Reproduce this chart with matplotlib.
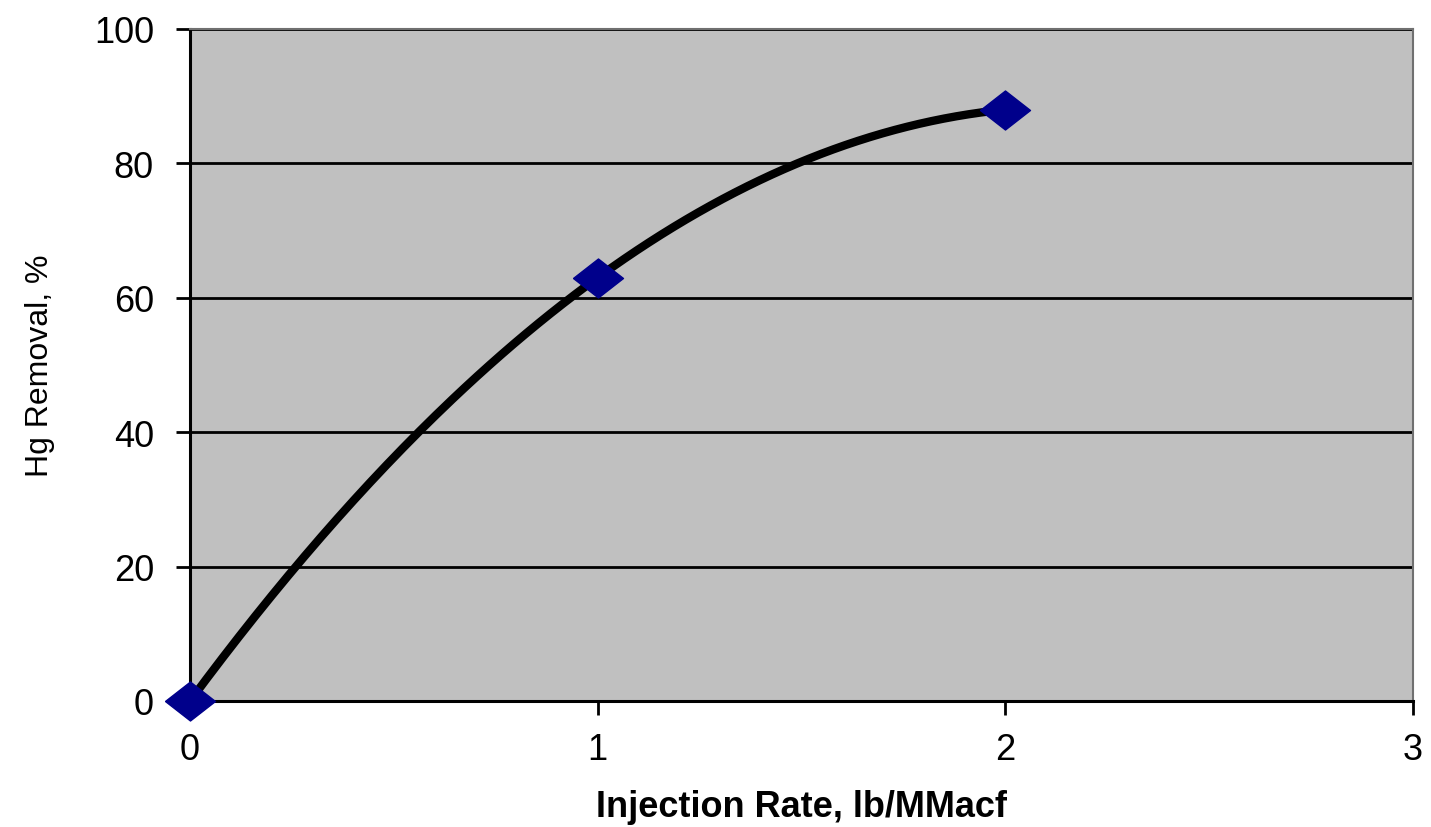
import matplotlib
matplotlib.use('Agg')
import matplotlib.pyplot as plt
import numpy as np

# data
injection_rate = [0, 1, 2]
hg_removal = [0, 63, 88]
x_ticks = [0, 1, 2, 3]
y_ticks = [0, 20, 40, 60, 80, 100]

plt.rcParams['font.family'] = ['Liberation Sans', 'DejaVu Sans']

fig = plt.figure(figsize=(14.31, 8.28), dpi=100)
ax = fig.add_axes([0.1328, 0.1522, 0.8546, 0.8116])
ax.set_facecolor('#c0c0c0')

# 2nd order polynomial trendline, like the spreadsheet one
coef = np.polyfit(injection_rate, hg_removal, 2)
xs = np.linspace(min(injection_rate), max(injection_rate), 200)
ax.plot(xs, np.polyval(coef, xs), color='black', lw=6, zorder=3, solid_capstyle='round')

diamond = [(-1, 0), (0, 0.78), (1, 0), (0, -0.78), (-1, 0)]
ax.plot(injection_rate, hg_removal, linestyle='none', marker=diamond,
        markersize=36, color='#00008b', zorder=4, clip_on=False)

ax.set_xlim(0, 3)
ax.set_ylim(0, 100)
ax.set_xticks(x_ticks)
ax.set_yticks(y_ticks)
for y in y_ticks[1:]:
    ax.axhline(y, color='black', lw=2, zorder=1)

for side in ['left', 'bottom']:
    ax.spines[side].set_linewidth(2.2)
    ax.spines[side].set_color('black')
for side in ['top', 'right']:
    ax.spines[side].set_linewidth(1.5)
    ax.spines[side].set_color('#707070')

ax.tick_params(direction='out', length=10, width=2, labelsize=26, pad=12)
ax.tick_params(axis='y', pad=16)
ax.set_xlabel('Injection Rate, lb/MMacf', fontsize=26, fontweight='bold', labelpad=16)
ax.set_ylabel('Hg Removal, %', fontsize=23, labelpad=28)

fig.savefig('out.png', dpi=100)
